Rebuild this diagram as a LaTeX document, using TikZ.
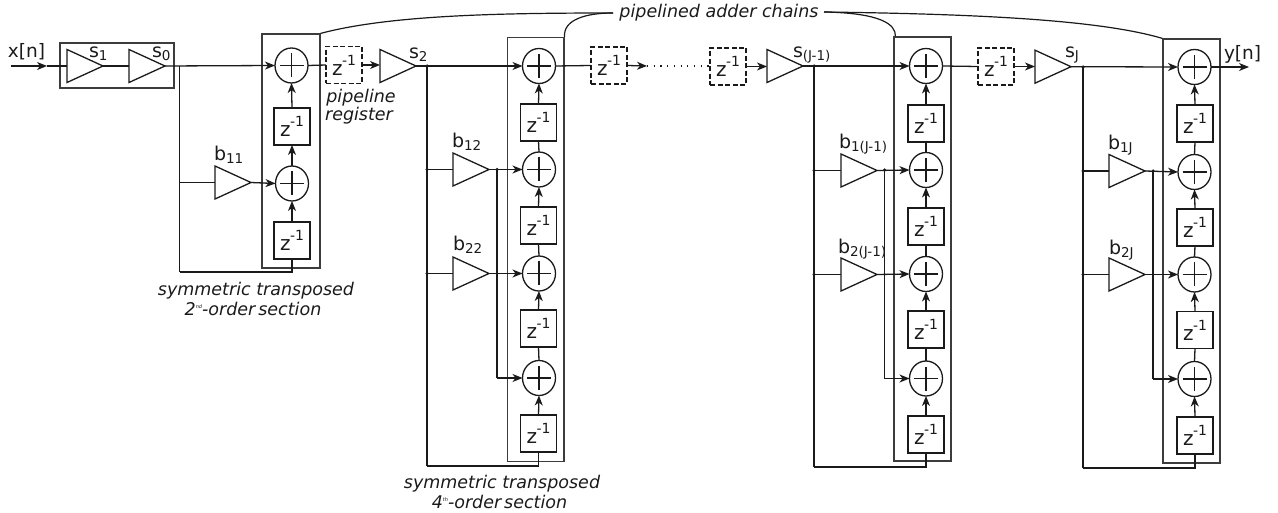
\documentclass[tikz,border=0pt]{standalone}
\usepackage{fontspec}
\setmainfont{DejaVu Sans}
\usetikzlibrary{shapes.geometric,arrows.meta}
\definecolor{ink}{HTML}{1A1A1A}
\newcommand{\fsz}[1]{\fontsize{#1}{#1}\selectfont}
\newcommand{\lab}[2]{{\fsz{19}#1}\raisebox{-3pt}{\fsz{13.5}#2}}
\newcommand{\zinv}{\raisebox{-3pt}{\fsz{20}z}\kern-0.5pt\raisebox{7pt}{\fsz{14}-1}}
\tikzset{
  wire/.style={draw=ink,line width=1.3pt},
  arr/.style={wire,-{Stealth[length=10pt,width=8pt,inset=3pt]}},
  gain/.style={isosceles triangle,isosceles triangle apex angle=60,isosceles triangle stretches,shape border rotate=0,draw=ink,line width=1.3pt,minimum height=36pt,minimum width=33pt,inner sep=0pt,outer sep=0pt,anchor=apex},
  zbox/.style={rectangle,draw=ink,line width=1.3pt,minimum width=36pt,minimum height=37pt,inner sep=0pt,outer sep=0pt,text=ink},
  zdash/.style={zbox,dash pattern=on 5pt off 2.5pt},
  adder/.style={ellipse,draw=ink,line width=1.3pt,minimum width=33pt,minimum height=35pt,inner sep=0pt,outer sep=0pt,
    path picture={\draw[wire] ([xshift=-12pt]path picture bounding box.center)--([xshift=12pt]path picture bounding box.center);
    \draw[wire] ([yshift=-12pt]path picture bounding box.center)--([yshift=12pt]path picture bounding box.center);}},
  section/.style={draw=ink!85,line width=1.2pt,fill=none,inner sep=0pt},
  dotn/.style={circle,fill=ink,draw=none,inner sep=0pt,minimum size=3.5pt},
  txt/.style={anchor=base west,inner sep=0pt,outer sep=0pt,text=ink},
  itxt/.style={anchor=base,inner sep=0pt,outer sep=0pt,text=ink,font=\fsz{17.5}\itshape},
  curve/.style={draw=ink,line width=1.2pt},
}
\begin{document}
\begin{tikzpicture}[x=1pt,y=-1pt]
\useasboundingbox (0,0) rectangle (1278,513);
% section frames
\node[section,minimum width=114pt,minimum height=45pt] (inbox) at (117,65.5) {};
\node[minimum width=58pt,minimum height=234pt,section] (sec1) at (291,151) {};
\node[minimum width=56.5pt,minimum height=424pt,section] (sec2) at (535.75,249.5) {};
\node[minimum width=57pt,minimum height=424pt,section] (sec3) at (922.5,249) {};
\node[minimum width=57pt,minimum height=424pt,section] (sec4) at (1191.5,251) {};
% input
\coordinate (xin) at (11,66);
\coordinate (xm) at (47,66);
\node[gain] (s1) at (103,66) {};
\node[gain] (s0) at (165,66) {};
% section 1
\node[adder] (a11) at (291.5,65.5) {};
\node[zbox] (z11) at (292,126.5) {\zinv};
\node[adder] (a12) at (292,183.5) {};
\node[zbox] (z12) at (292,240.5) {\zinv};
\node[gain] (b11) at (251,182.5) {};
\coordinate (j1) at (179.5,66);
\coordinate (j1b) at (179.5,182.5);
\coordinate (f1) at (179.5,272);
% pipeline 1
\node[zdash] (p1) at (344,65) {\zinv};
\node[gain] (s2) at (416,66) {};
% section 2
\node[adder] (a21) at (539,66) {};
\node[zbox] (z21) at (538.5,122.5) {\zinv};
\node[adder] (a22) at (539,169.5) {};
\node[zbox] (z22) at (538.5,225.5) {\zinv};
\node[adder] (a23) at (539,273.5) {};
\node[zbox] (z23) at (538.5,328.5) {\zinv};
\node[adder] (a24) at (539,378) {};
\node[zbox] (z24) at (538.5,433.5) {\zinv};
\node[gain] (b12) at (489,169.5) {};
\node[gain] (b22) at (489,273.5) {};
\node[dotn] (d21) at (427,66) {};
\node[dotn] (d22) at (427,169.5) {};
\node[dotn] (d23) at (427,273.5) {};
\node[dotn] (d24) at (497,169.5) {};
\coordinate (f2) at (427,466);
\coordinate (t24) at (497,378);
% pipeline 2
\node[zdash] (p2) at (609,65.5) {\zinv};
\coordinate (p2m) at (647,66);
\coordinate (p3m) at (709,66);
\node[zdash] (p3) at (728,66.5) {\zinv};
\node[gain] (s3) at (803,66) {};
% section 3
\node[adder] (a31) at (926,66) {};
\node[zbox] (z31) at (926,123.5) {\zinv};
\node[adder] (a32) at (926,170) {};
\node[zbox] (z32) at (926,226.5) {\zinv};
\node[adder] (a33) at (926,274) {};
\node[zbox] (z33) at (926,329.5) {\zinv};
\node[adder] (a34) at (926,378.5) {};
\node[zbox] (z34) at (926,434.5) {\zinv};
\node[gain] (b13) at (877,170.5) {};
\node[gain] (b23) at (877,274.5) {};
\node[dotn] (d31) at (814,66) {};
\node[dotn] (d32) at (814,170.5) {};
\node[dotn] (d33) at (814,274.5) {};
\node[dotn] (d34) at (884.5,170) {};
\coordinate (f3) at (814,467);
\coordinate (t34) at (884.5,378.5);
% pipeline 3
\node[zdash] (p4) at (996,66.5) {\zinv};
\node[gain] (s4) at (1071,66.7) {};
% section 4
\node[adder] (a41) at (1194.5,67) {};
\node[zbox] (z41) at (1195,123.5) {\zinv};
\node[adder] (a42) at (1194.5,172) {};
\node[zbox] (z42) at (1195,227.5) {\zinv};
\node[adder] (a43) at (1194.5,274.5) {};
\node[zbox] (z43) at (1195,330) {\zinv};
\node[adder] (a44) at (1194.5,379) {};
\node[zbox] (z44) at (1195,435.5) {\zinv};
\node[gain] (b14) at (1145,171) {};
\node[gain] (b24) at (1145,274.5) {};
\node[dotn] (d41) at (1083,67) {};
\node[dotn] (d42) at (1083,171) {};
\node[dotn] (d43) at (1083,274.5) {};
\node[dotn] (d44) at (1153,171) {};
\coordinate (f4) at (1083,468);
\coordinate (t44) at (1153,379);
\coordinate (yout) at (1249,67);
% wires: input
\draw[arr] (xin) -- (xm);
\draw[wire] (xm) -- (s1.west |- xm);
\draw[wire] (s1.apex) -- (s0.west |- s1.apex);
\draw[arr] (s0.apex) -- (a11.west);
\draw[wire] (j1) -- (f1);
\draw[wire] (j1b) -- (b11.west |- j1b);
\draw[arr] (b11.apex) -- (a12.west);
\draw[arr] (z11.north) -- (a11.south);
\draw[arr] (a12.north) -- (z11.south);
\draw[arr] (z12.north) -- (a12.south);
\draw[wire] (z12.south) |- (f1);
\draw[wire] (a11.east) -- (p1.west);
\draw[arr] (p1.east) -- (s2.west |- p1.east);
% section 2
\draw[arr] (s2.apex) -- (a21.west);
\draw[wire] (d21.center) -- (f2);
\draw[wire] (d22.center) -- (b12.west |- d22);
\draw[wire] (d23.center) -- (b22.west |- d23);
\draw[arr] (b12.apex) -- (a22.west);
\draw[arr] (b22.apex) -- (a23.west);
\draw[wire] (d24.center) -- (t24);
\draw[arr] (t24) -- (a24.west);
\draw[arr] (z21.north) -- (a21.south);
\draw[wire] (a22.north) -- (z21.south);
\draw[arr] (z22.north) -- (a22.south);
\draw[wire] (a23.north) -- (z22.south);
\draw[arr] (z23.north) -- (a23.south);
\draw[wire] (a24.north) -- (z23.south);
\draw[arr] (z24.north) -- (a24.south);
\draw[wire] (z24.south) |- (f2);
\draw[wire] (a21.east) -- (p2.west);
\draw[arr] (p2.east) -- (p2m);
\draw[wire,line width=1.2pt,dash pattern=on 1.2pt off 5.5pt] (p2m) -- (p3m);
\draw[arr] (p3.east) -- (s3.west |- p3.east);
% section 3
\draw[arr] (s3.apex) -- (a31.west);
\draw[wire] (d31.center) -- (f3);
\draw[wire] (d32.center) -- (b13.west |- d32);
\draw[wire] (d33.center) -- (b23.west |- d33);
\draw[arr] (b13.apex) -- (a32.west);
\draw[arr] (b23.apex) -- (a33.west);
\draw[wire] (d34.center) -- (t34);
\draw[arr] (t34) -- (a34.west);
\draw[arr] (z31.north) -- (a31.south);
\draw[wire] (a32.north) -- (z31.south);
\draw[arr] (z32.north) -- (a32.south);
\draw[wire] (a33.north) -- (z32.south);
\draw[arr] (z33.north) -- (a33.south);
\draw[wire] (a34.north) -- (z33.south);
\draw[arr] (z34.north) -- (a34.south);
\draw[wire] (z34.south) |- (f3);
\draw[wire] (a31.east) -- (p4.west);
\draw[arr] (p4.east) -- (s4.west |- p4.east);
% section 4
\draw[arr] (s4.apex) -- (a41.west);
\draw[wire] (d41.center) -- (f4);
\draw[wire] (d42.center) -- (b14.west |- d42);
\draw[wire] (d43.center) -- (b24.west |- d43);
\draw[arr] (b14.apex) -- (a42.west);
\draw[arr] (b24.apex) -- (a43.west);
\draw[wire] (d44.center) -- (t44);
\draw[arr] (t44) -- (a44.west);
\draw[arr] (z41.north) -- (a41.south);
\draw[wire] (a42.north) -- (z41.south);
\draw[arr] (z42.north) -- (a42.south);
\draw[wire] (a43.north) -- (z42.south);
\draw[arr] (z43.north) -- (a43.south);
\draw[wire] (a44.north) -- (z43.south);
\draw[arr] (z44.north) -- (a44.south);
\draw[wire] (z44.south) |- (f4);
\draw[arr] (a41.east) -- (yout);
% labels
\node[txt] (lx) at (8,58) {\fsz{18.5}x[n]};
\node[txt] (ly) at (1224,60) {\fsz{18.5}y[n]};
\node[txt] at (89,58) {\lab{s}{1}};
\node[txt] at (152,58) {\lab{s}{0}};
\node[txt] at (409,59) {\lab{s}{2}};
\node[txt] at (793,58) {\lab{s}{(J-1)}};
\node[txt] at (1065,58) {\lab{s}{J}};
\node[txt] at (214,161) {\lab{b}{11}};
\node[txt] at (452,148) {\lab{b}{12}};
\node[txt] at (453,251) {\lab{b}{22}};
\node[txt] at (839,149) {\lab{b}{1(J-1)}};
\node[txt] at (838,254) {\lab{b}{2(J-1)}};
\node[txt] at (1108,150) {\lab{b}{1J}};
\node[txt] at (1109,255) {\lab{b}{2J}};
\node[itxt] at (361,103) {pipeline};
\node[itxt] at (359,121) {register};
\node[itxt] at (256,295) {symmetric transposed};
\node[itxt] at (253,316) {2\raisebox{7pt}{\fsz{5}nd}-order\,section};
\node[itxt] at (502,488) {symmetric transposed};
\node[itxt] at (499.5,508) {4\raisebox{7pt}{\fsz{5}th}-order\,section};
\node[itxt] (pac) at (719,18) {pipelined adder chains};
% pointer curves
\coordinate (pl) at (613,13);
\coordinate (pr) at (824,12);
\draw[curve] (pl) .. controls (500,13) and (390,15) .. (sec1.north east);
\draw[curve] (pl) .. controls (585,13) and (563,20) .. (sec2.north east);
\draw[curve] (pr) .. controls (880,13) and (896,24) .. ([xshift=2pt]sec3.north west);
\draw[curve] (pr) .. controls (980,14) and (1100,20) .. (sec4.north west);
\end{tikzpicture}
\end{document}
